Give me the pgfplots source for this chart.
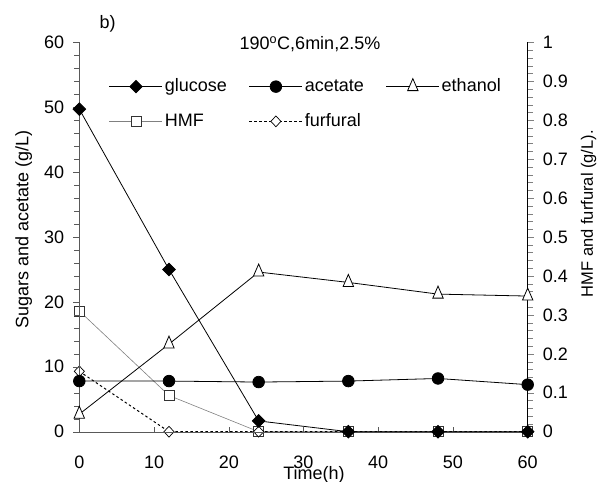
\documentclass[border=0pt]{standalone}
\usepackage{fontspec}
\setmainfont{Liberation Sans}
\usepackage{pgfplots}
\pgfplotsset{compat=1.18}

% time points (h) and concentrations
\pgfplotsset{
  frame/.style={
    at={(79.3bp,50.3bp)}, anchor=south west,
    scale only axis, width=448.4bp, height=389.4bp,
    xmin=0, xmax=60, clip=false,
    axis line style={-},
    /pgf/number format/assume math mode=true,
    tick align=outside,
    major tick length=6bp, minor tick length=5bp,
  },
  glu/.style={black, line width=0.8pt, mark=diamond*,
    mark options={solid, fill=black, mark size=6.3bp, xscale=1.33}},
  ace/.style={black, line width=0.8pt, mark=*,
    mark options={solid, fill=black, mark size=5.8bp}},
  eth/.style={black, line width=0.8pt, mark=triangle*,
    mark options={solid, fill=white, mark size=8bp, xscale=0.75, line width=0.8pt}},
  hmf/.style={black!50, line width=0.6pt, mark=square*,
    mark options={solid, draw=black!80, fill=white, mark size=5bp, line width=0.7pt}},
  fur/.style={black, line width=1pt, dash pattern=on 2.5pt off 2.5pt, mark=diamond*,
    mark options={solid, draw=black, fill=white, mark size=5.4bp, xscale=1.25, line width=0.7pt}},
}

\begin{document}
\fontsize{18bp}{21.6bp}\selectfont
\begin{tikzpicture}
\useasboundingbox (0,0) rectangle (598bp,482bp);

% right axis: HMF and furfural
\begin{axis}[frame,
  ymin=0, ymax=1,
  axis y line*=right, axis x line=none,
  ytick={0,0.1,0.2,0.3,0.4,0.5,0.6,0.7,0.8,0.9,1},
  yticklabels={0,0.1,0.2,0.3,0.4,0.5,0.6,0.7,0.8,0.9,1},
  yticklabel style={xshift=3bp},
  minor y tick num=4,
  y axis line style={black},
  ylabel={\fontsize{16.5bp}{19bp}\selectfont HMF and furfural (g/L).},
  every axis y label/.style={at={(rel axis cs:1,0.56)}, xshift=65.3bp, rotate=90, anchor=base},
  legend columns=3,
  legend cell align=left,
  legend style={at={(rel axis cs:0.066,0.912)}, anchor=north west, draw=none, fill=none,
    inner sep=0pt, row sep=15bp,
    /tikz/every even column/.append style={column sep=20bp}},
  legend image code/.code={\draw[mark repeat=2,mark phase=2]
    plot coordinates {(0bp,0bp)(26.5bp,0bp)(53bp,0bp)};},
]
\addlegendimage{glu}\addlegendentry{glucose}
\addlegendimage{ace}\addlegendentry{acetate}
\addlegendimage{eth}\addlegendentry{ethanol}
\addplot[hmf] coordinates {(0,0.31)(12,0.093)(24,0)(36,0)(48,0)(60,0)};
\addlegendentry{HMF}
\addplot[fur] coordinates {(0,0.155)(12,0)(24,0)(36,0)(48,0)(60,0)};
\addlegendentry{furfural}
\end{axis}

% left axis: sugars, acetate and ethanol
\begin{axis}[frame,
  ymin=0, ymax=60,
  axis x line*=bottom, axis y line*=left,
  axis line style={black!65},
  xtick={0,10,20,30,40,50,60},
  ytick={0,10,20,30,40,50,60},
  minor y tick num=4,
  xtick style={yshift=5bp, black!65},
  ytick style={black!65},
  xticklabel style={yshift=-12bp},
  yticklabel style={xshift=-3bp},
  xlabel={Time(h)},
  every axis x label/.style={at={(rel axis cs:0.5,0)}, xshift=10.5bp, yshift=-48bp, anchor=base},
  ylabel={Sugars and acetate (g/L)},
  every axis y label/.style={at={(rel axis cs:0,0.52)}, xshift=-51bp, rotate=90, anchor=base},
]
\addplot[glu] coordinates {(0,49.7)(12,25.0)(24,1.66)(36,0)(48,0)(60,0)};
\addplot[ace] coordinates {(0,7.8)(12,7.8)(24,7.65)(36,7.8)(48,8.2)(60,7.25)};
\addplot[eth] coordinates {(0,2.7)(12,13.5)(24,24.6)(36,23.0)(48,21.2)(60,20.9)};
\node[anchor=base, xshift=6.5bp, yshift=-7bp] at (rel axis cs:0.5,1) {190\textsuperscript{o}C,6min,2.5\%};
\node[anchor=base west, inner sep=0pt, xshift=20bp, yshift=13.3bp] at (rel axis cs:0,1) {b)};
\end{axis}
\end{tikzpicture}
\end{document}
